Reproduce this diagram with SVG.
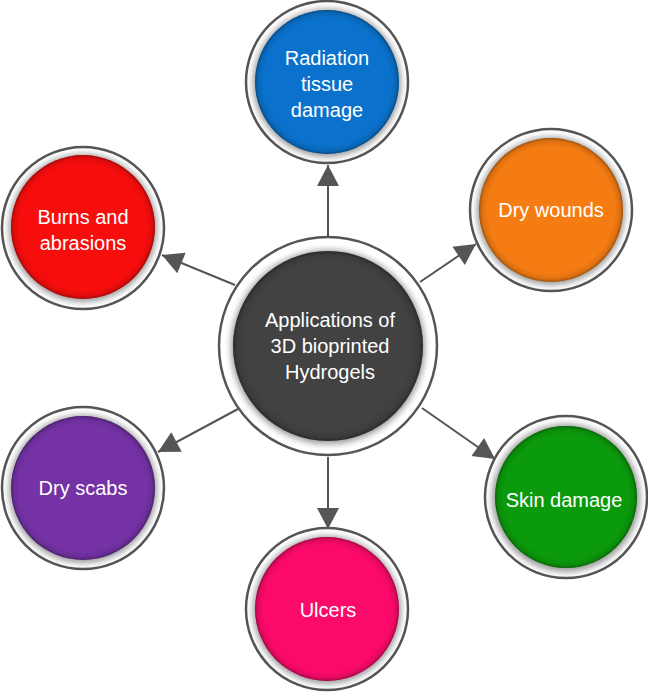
<svg xmlns="http://www.w3.org/2000/svg" width="648" height="693" viewBox="0 0 648 693">
<style>
.ring{fill:#fff;stroke:#555;stroke-width:2.5}
.shadow{fill:#000;opacity:0.4;filter:url(#blur)}
.bevel{fill:url(#bevel)}
.lbl{font-family:"Liberation Sans",Arial,sans-serif;font-size:20px;fill:#fff;text-anchor:middle}
.conn line{stroke:#555;stroke-width:2;marker-end:url(#arr)}
</style>
<defs>
<filter id="blur" x="-20%" y="-20%" width="140%" height="140%"><feGaussianBlur stdDeviation="3"/></filter>
<radialGradient id="bevel" cx="50%" cy="50%" r="50%">
<stop offset="0.88" stop-color="#000" stop-opacity="0"/>
<stop offset="0.96" stop-color="#000" stop-opacity="0.1"/>
<stop offset="1" stop-color="#000" stop-opacity="0.35"/>
</radialGradient>
<marker id="arr" viewBox="0 0 10 10" refX="10" refY="5" markerWidth="10" markerHeight="10" markerUnits="userSpaceOnUse" orient="auto" overflow="visible">
<path d="M-11,-6 L10,5 L-11,16 Z" fill="#555"/>
</marker>
</defs>
<g class="conn" id="connectors">
<line x1="328" y1="236" x2="328" y2="165"/>
<line x1="235" y1="285" x2="162" y2="255"/>
<line x1="420" y1="282" x2="476" y2="244"/>
<line x1="238" y1="409" x2="158" y2="452"/>
<line x1="422" y1="408" x2="495" y2="459"/>
<line x1="328" y1="457" x2="328" y2="529"/>
</g>
<g id="center">
<circle class="ring" cx="328" cy="346" r="109"/>
<circle class="shadow" cx="328" cy="347" r="97"/>
<circle cx="328" cy="346" r="95" fill="#424242"/>
<circle class="bevel" cx="328" cy="346" r="95"/>
<text class="lbl" x="330" y="327">Applications of</text>
<text class="lbl" x="330" y="353">3D bioprinted</text>
<text class="lbl" x="330" y="379">Hydrogels</text>
</g>
<g id="radiation">
<circle class="ring" cx="327" cy="82" r="81"/>
<circle class="shadow" cx="327" cy="83" r="74"/>
<circle cx="327" cy="82" r="72" fill="#0a72cc"/>
<circle class="bevel" cx="327" cy="82" r="72"/>
<text class="lbl" x="327" y="65">Radiation</text>
<text class="lbl" x="327" y="91">tissue</text>
<text class="lbl" x="327" y="117">damage</text>
</g>
<g id="burns">
<circle class="ring" cx="83" cy="228" r="81"/>
<circle class="shadow" cx="83" cy="228" r="74"/>
<circle cx="83" cy="227" r="72" fill="#f80d0d"/>
<circle class="bevel" cx="83" cy="227" r="72"/>
<text class="lbl" x="83" y="224">Burns and</text>
<text class="lbl" x="83" y="250">abrasions</text>
</g>
<g id="drywounds">
<circle class="ring" cx="551" cy="210" r="81"/>
<circle class="shadow" cx="551" cy="211" r="74"/>
<circle cx="551" cy="210" r="72" fill="#f57c12"/>
<circle class="bevel" cx="551" cy="210" r="72"/>
<text class="lbl" x="551" y="217">Dry wounds</text>
</g>
<g id="dryscabs">
<circle class="ring" cx="83" cy="488" r="81"/>
<circle class="shadow" cx="83" cy="489" r="74"/>
<circle cx="83" cy="488" r="72" fill="#7532a6"/>
<circle class="bevel" cx="83" cy="488" r="72"/>
<text class="lbl" x="83" y="495">Dry scabs</text>
</g>
<g id="skindamage">
<circle class="ring" cx="566" cy="497" r="81"/>
<circle class="shadow" cx="566" cy="498" r="74"/>
<circle cx="566" cy="497" r="71" fill="#0b9a0b"/>
<circle class="bevel" cx="566" cy="497" r="71"/>
<text class="lbl" x="564" y="507">Skin damage</text>
</g>
<g id="ulcers">
<circle class="ring" cx="327" cy="609" r="81"/>
<circle class="shadow" cx="327" cy="610" r="74"/>
<circle cx="327" cy="609" r="72" fill="#fb0a6a"/>
<circle class="bevel" cx="327" cy="609" r="72"/>
<text class="lbl" x="328" y="617">Ulcers</text>
</g>
</svg>
